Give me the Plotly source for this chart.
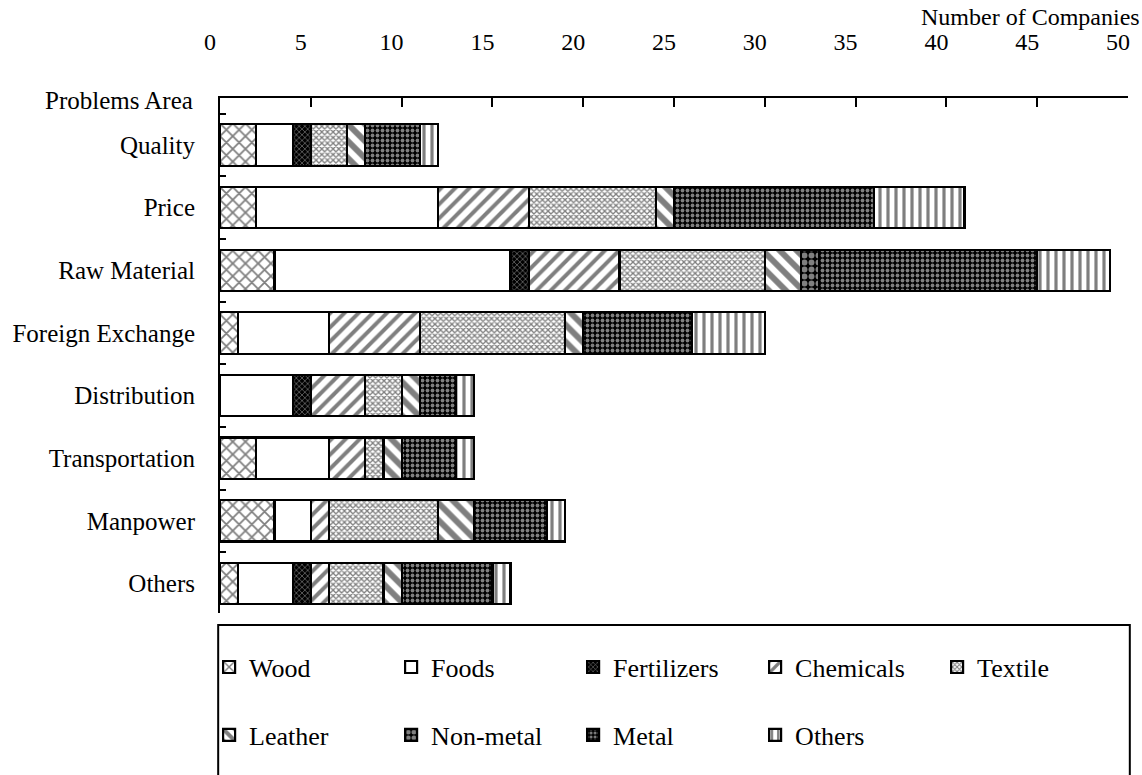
import plotly.graph_objects as go

categories = ["Quality", "Price", "Raw Material", "Foreign Exchange",
              "Distribution", "Transportation", "Manpower", "Others"]
wood        = [2, 2, 3, 1, 0, 2, 3, 1]
foods       = [2, 10, 13, 5, 4, 4, 2, 3]
fertilizers = [1, 0, 1, 0, 1, 0, 0, 1]
chemicals   = [0, 5, 5, 5, 3, 2, 1, 1]
textile     = [2, 7, 8, 8, 2, 1, 6, 3]
leather     = [1, 1, 2, 1, 1, 1, 2, 1]
nonmetal    = [0, 0, 1, 0, 0, 0, 0, 0]
metal       = [3, 11, 12, 6, 2, 3, 4, 5]
others      = [1, 5, 4, 4, 1, 1, 1, 1]
x_ticks = [0, 5, 10, 15, 20, 25, 30, 35, 40, 45, 50]

FONT = "Liberation Serif"

series = [
    ("Wood", wood, dict(shape="x", size=9, solidity=0.35, fgcolor="black", bgcolor="white")),
    ("Foods", foods, dict(shape="", fgcolor="black", bgcolor="white")),
    ("Fertilizers", fertilizers, dict(shape="x", size=4, solidity=0.3, fgcolor="white", bgcolor="black")),
    ("Chemicals", chemicals, dict(shape="/", size=10, solidity=0.4, fgcolor="black", bgcolor="white")),
    ("Textile", textile, dict(shape="x", size=4, solidity=0.55, fgcolor="black", bgcolor="white")),
    ("Leather", leather, dict(shape="\\", size=12, solidity=0.5, fgcolor="black", bgcolor="white")),
    ("Non-metal", nonmetal, dict(shape=".", size=7, solidity=0.55, fgcolor="white", bgcolor="black")),
    ("Metal", metal, dict(shape=".", size=5, solidity=0.45, fgcolor="white", bgcolor="black")),
    ("Others", others, dict(shape="|", size=8, solidity=0.4, fgcolor="black", bgcolor="white")),
]

fig = go.Figure()
for i, (name, vals, pat) in enumerate(series):
    fig.add_trace(go.Bar(
        name=name, y=categories, x=vals, orientation="h",
        marker=dict(color="white", pattern=pat, line=dict(color="black", width=2.2)),
        legend="legend" if i < 5 else "legend2",
    ))

legend_common = dict(orientation="h", x=-0.012, xanchor="left", yanchor="middle",
                     traceorder="normal", entrywidth=137, entrywidthmode="pixels",
                     font=dict(family=FONT, size=26), bgcolor="rgba(0,0,0,0)")

fig.update_layout(
    barmode="stack",
    bargap=0.34,
    width=1142, height=775,
    margin=dict(l=220, r=14, t=98, b=162),
    paper_bgcolor="white", plot_bgcolor="white",
    font=dict(family=FONT, size=25, color="black"),
    xaxis=dict(
        side="top", range=[0, 50], tickvals=x_ticks, ticktext=[str(v) for v in x_ticks],
        showgrid=False, zeroline=False, showline=True, linecolor="black", linewidth=2,
        ticks="inside", ticklen=9, tickwidth=2, tickcolor="black",
        ticklabelstandoff=36, ticklabelshift=-10, automargin=False,
        tickfont=dict(family=FONT, size=24),
    ),
    yaxis=dict(
        categoryorder="array", categoryarray=categories,
        range=[7.47, -0.75], automargin=False,
        showgrid=False, zeroline=False, showline=True, linecolor="black", linewidth=2,
        ticks="inside", tickson="boundaries", ticklen=6, tickwidth=2, tickcolor="black",
        ticklabelstandoff=18,
        tickfont=dict(family=FONT, size=25),
    ),
    legend=dict(legend_common, y=-0.105),
    legend2=dict(legend_common, y=-0.237),
    annotations=[
        dict(text="Number of Companies", xref="paper", yref="paper", x=1.015, y=1.157,
             xanchor="right", yanchor="middle", showarrow=False, font=dict(family=FONT, size=24)),
        dict(text="Problems Area", xref="paper", yref="paper", x=-0.027, y=0.996,
             xanchor="right", yanchor="middle", showarrow=False, font=dict(family=FONT, size=25)),
    ],
    shapes=[
        dict(type="rect", xref="paper", yref="paper", x0=-0.002, x1=1.002, y0=-0.40, y1=-0.0233,
             line=dict(color="black", width=2), fillcolor="rgba(0,0,0,0)", layer="below"),
    ],
)

fig.write_html("out.html", config={"displayModeBar": False},
               post_script="document.body.style.margin='0';")
